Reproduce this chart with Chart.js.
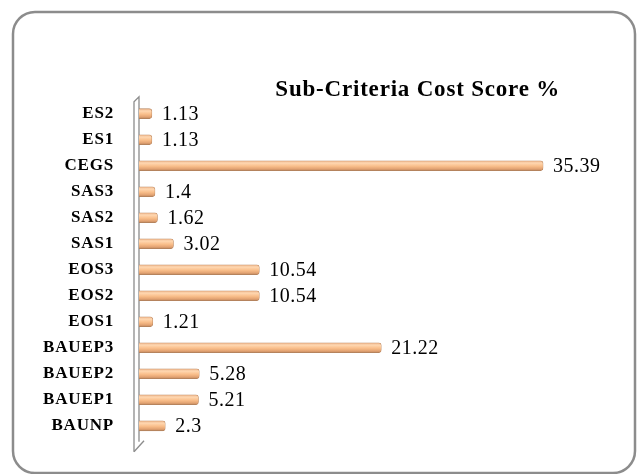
<!DOCTYPE html>
<html>
<head>
<meta charset="utf-8">
<script src="https://cdn.jsdelivr.net/npm/chart.js@4"></script>
<style>
  html, body { margin: 0; padding: 0; background: #ffffff; }
  canvas { display: block; }
</style>
</head>
<body>
<canvas id="c" width="637" height="474"></canvas>
<script>
const categories = ['ES2', 'ES1', 'CEGS', 'SAS3', 'SAS2', 'SAS1', 'EOS3', 'EOS2', 'EOS1', 'BAUEP3', 'BAUEP2', 'BAUEP1', 'BAUNP'];
const costScores = [1.13, 1.13, 35.39, 1.4, 1.62, 3.02, 10.54, 10.54, 1.21, 21.22, 5.28, 5.21, 2.3];
const chartTitle = 'Sub-Criteria Cost Score %';

const SERIF = '"Liberation Serif", "Times New Roman", serif';

const frame = {
  id: 'frame',
  beforeDraw(chart) {
    const ctx = chart.ctx;
    ctx.save();
    ctx.fillStyle = '#ffffff';
    ctx.fillRect(0, 0, chart.width, chart.height);
    ctx.strokeStyle = '#8c8c8c';
    ctx.lineWidth = 2.5;
    ctx.beginPath();
    ctx.roundRect(13, 12, 622, 461, 22);
    ctx.stroke();
    ctx.restore();
    ctx.letterSpacing = '0.8px';
  },
  beforeDatasetsDraw(chart) {
    const ctx = chart.ctx;
    const a = chart.chartArea;
    const xl = a.left - 5, xr = a.left;
    ctx.save();
    ctx.strokeStyle = '#8c8c8c';
    ctx.lineWidth = 1.3;
    ctx.beginPath();
    ctx.moveTo(xl, a.bottom + 13);
    ctx.lineTo(xl, a.top + 1);
    ctx.lineTo(xr, a.top - 4);
    ctx.lineTo(xr, a.bottom + 3);
    ctx.stroke();
    ctx.beginPath();
    ctx.moveTo(xl, a.bottom + 13);
    ctx.lineTo(xr + 5, a.bottom + 2);
    ctx.stroke();
    ctx.restore();
  },
  afterDatasetsDraw(chart) {
    const ctx = chart.ctx;
    const meta = chart.getDatasetMeta(0);
    ctx.save();
    ctx.letterSpacing = '0.5px';
    ctx.font = '20px ' + SERIF;
    ctx.fillStyle = '#000000';
    ctx.textAlign = 'left';
    ctx.textBaseline = 'middle';
    meta.data.forEach((bar, i) => {
      ctx.fillText(String(costScores[i]), bar.x + 10, bar.y + 1);
    });
    ctx.restore();
  },
  afterDraw(chart) {
    chart.ctx.letterSpacing = '0px';
  }
};

function barFill(c) {
  const chart = c.chart;
  const y = chart.scales && chart.scales.y;
  if (!y || c.type !== 'data' || !chart.chartArea) return '#F8BD8A';
  const yc = y.getPixelForValue(c.dataIndex);
  const g = chart.ctx.createLinearGradient(0, yc - 5, 0, yc + 5);
  g.addColorStop(0, '#E2A77C');
  g.addColorStop(0.22, '#FFD8B2');
  g.addColorStop(0.55, '#F9BE8A');
  g.addColorStop(0.85, '#E0A070');
  g.addColorStop(1, '#A97A55');
  return g;
}

new Chart(document.getElementById('c'), {
  type: 'bar',
  data: {
    labels: categories,
    datasets: [{
      data: costScores,
      backgroundColor: barFill,
      borderColor: '#B88660',
      borderWidth: 0.6,
      borderSkipped: 'start',
      borderRadius: { topRight: 3, bottomRight: 3, topLeft: 0, bottomLeft: 0 },
      barThickness: 10
    }]
  },
  options: {
    indexAxis: 'y',
    responsive: false,
    animation: false,
    events: [],
    layout: { padding: { top: 80, left: 0, right: 77, bottom: 30 } },
    plugins: {
      legend: { display: false },
      tooltip: { enabled: false },
      title: {
        display: true,
        text: chartTitle,
        align: 'end',
        color: '#000000',
        font: { family: SERIF, size: 23, weight: 'bold', lineHeight: 0.9 },
        padding: { top: 0, bottom: 0 }
      }
    },
    scales: {
      x: { display: false, min: 0, max: 36.87 },
      y: {
        grid: { display: false, drawTicks: false },
        border: { display: false },
        ticks: {
          color: '#000000',
          padding: 25,
          font: { family: SERIF, size: 17, weight: 'bold' }
        },
        afterFit(scale) { scale.width = 139; }
      }
    }
  },
  plugins: [frame]
});
</script>
</body>
</html>
